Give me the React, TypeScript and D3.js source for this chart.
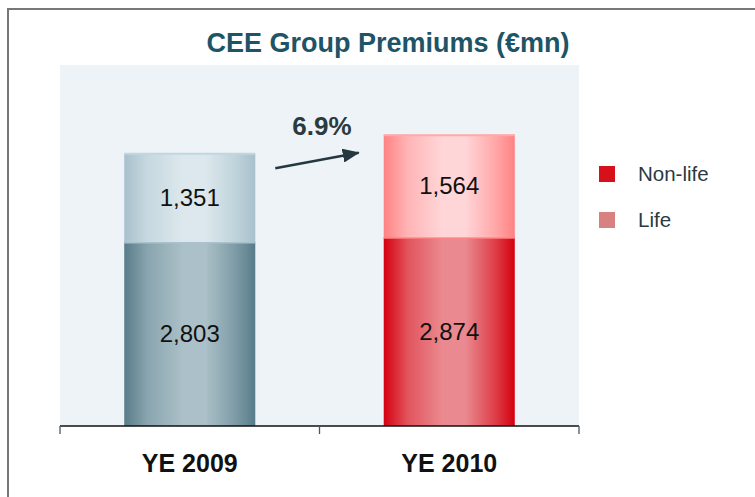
import React from 'react';
import * as d3 from 'd3';

const width = 755;
const height = 497;

const categories = ['YE 2009', 'YE 2010'];
const seriesNames = ['Non-life', 'Life'];
const nonLife = [2803, 2874];
const life = [1351, 1564];
const growthLabel = '6.9%';
const yMax = 5500;

const plot = { left: 60, right: 579, top: 65, bottom: 426 };

// colours per bar: [edge, centre] for non-life and life segments
const barColors = [
  { nonLife: ['#587c8a', '#abc0c8'], life: ['#a8c1cc', '#dce8ed'], lifeTop: '#c2d6de' },
  { nonLife: ['#d5000f', '#ea8a90'], life: ['#ff8282', '#ffd6d8'], lifeTop: '#ffa9a9' },
];
const legendColors = ['#d7101a', '#d98080'];

const fmt = d3.format(',');

const Grad = ({ id, edge, mid }: { id: string; edge: string; mid: string }) => (
  <linearGradient id={id} x1="0" x2="1" y1="0" y2="0">
    <stop offset="0" stopColor={edge} />
    <stop offset="0.18" stopColor={d3.interpolateRgb(edge, mid)(0.6)} />
    <stop offset="0.45" stopColor={mid} />
    <stop offset="0.62" stopColor={mid} />
    <stop offset="0.85" stopColor={d3.interpolateRgb(edge, mid)(0.45)} />
    <stop offset="1" stopColor={edge} />
  </linearGradient>
);

export default function App() {
  const x = d3
    .scaleBand<string>()
    .domain(categories)
    .range([plot.left, plot.right])
    .paddingInner(0.495)
    .paddingOuter(0.2475);
  const y = d3.scaleLinear().domain([0, yMax]).range([plot.bottom, plot.top]);

  const rows = categories.map((c, i) => ({ cat: c, nonLife: nonLife[i], life: life[i] }));
  const stacked = d3.stack<any>().keys(['nonLife', 'life'])(rows);

  const bw = x.bandwidth();
  const totals = rows.map((r) => r.nonLife + r.life);
  const ax0 = (x(categories[0]) as number) + bw + 20;
  const ax1 = (x(categories[1]) as number) - 25;
  const ay0 = y(totals[0]) + 15;
  const ay1 = y(totals[1]) + 18;

  return (
    <svg
      width={width}
      height={height}
      style={{ position: 'absolute', left: 0, top: 0, fontFamily: 'Arial, "Liberation Sans", sans-serif' }}
    >
      <defs>
        {barColors.map((c, i) => (
          <React.Fragment key={i}>
            <Grad id={`nl${i}`} edge={c.nonLife[0]} mid={c.nonLife[1]} />
            <Grad id={`l${i}`} edge={c.life[0]} mid={c.life[1]} />
          </React.Fragment>
        ))}
        <marker id="arrowhead" viewBox="0 0 17 14" refX="16" refY="7" markerWidth="17" markerHeight="14" orient="auto" markerUnits="userSpaceOnUse">
          <path d="M0,0 L17,7 L0,14 Z" fill="#243840" />
        </marker>
      </defs>

      <rect x={0} y={0} width={width} height={height} fill="#fff" />
      <rect x={8} y={9} width={width + 20} height={height + 20} fill="none" stroke="#777" strokeWidth={2} />

      <text x={388} y={52} textAnchor="middle" fontSize={27} fontWeight="bold" fill="#1d5468">
        CEE Group Premiums (€mn)
      </text>

      <rect x={plot.left} y={plot.top} width={plot.right - plot.left} height={plot.bottom - plot.top} fill="#edf3f6" />

      {stacked.map((layer, li) =>
        layer.map((d, i) => {
          const bx = x(categories[i]) as number;
          const y0 = y(d[0]);
          const y1 = y(d[1]);
          const fill = li === 0 ? `url(#nl${i})` : `url(#l${i})`;
          return (
            <g key={`${li}-${i}`}>
              <rect x={bx} y={y1} width={bw} height={y0 - y1} fill={fill} />
              <line x1={bx} x2={bx + bw} y1={y1 + 0.5} y2={y1 + 0.5} stroke={li === 0 ? barColors[i].life[0] : barColors[i].lifeTop} strokeWidth={2} />
              <text
                x={bx + bw / 2}
                y={(y0 + y1) / 2}
                dy="0.35em"
                textAnchor="middle"
                fontSize={24}
                fill="#111"
              >
                {fmt(d[1] - d[0])}
              </text>
            </g>
          );
        })
      )}

      <line x1={plot.left} x2={plot.right} y1={plot.bottom} y2={plot.bottom} stroke="#111" strokeWidth={1.3} />
      {[plot.left, (plot.left + plot.right) / 2, plot.right].map((t, i) => (
        <line key={i} x1={t} x2={t} y1={plot.bottom} y2={plot.bottom + 8} stroke="#555" strokeWidth={1.3} />
      ))}
      {categories.map((c) => (
        <text key={c} x={(x(c) as number) + bw / 2} y={472} textAnchor="middle" fontSize={25} fontWeight="bold" fill="#111">
          {c}
        </text>
      ))}

      <line x1={ax0} y1={ay0} x2={ax1} y2={ay1} stroke="#243840" strokeWidth={2.5} markerEnd="url(#arrowhead)" />
      <text x={322} y={135} textAnchor="middle" fontSize={26} fontWeight="bold" fill="#2a3a40">
        {growthLabel}
      </text>

      {seriesNames.map((s, i) => (
        <g key={s} transform={`translate(599, ${166 + i * 46})`}>
          <rect width={16} height={16} fill={legendColors[i]} />
          <text x={39} y={15} fontSize={20.5} fill="#2a3a42">
            {s}
          </text>
        </g>
      ))}
    </svg>
  );
}
